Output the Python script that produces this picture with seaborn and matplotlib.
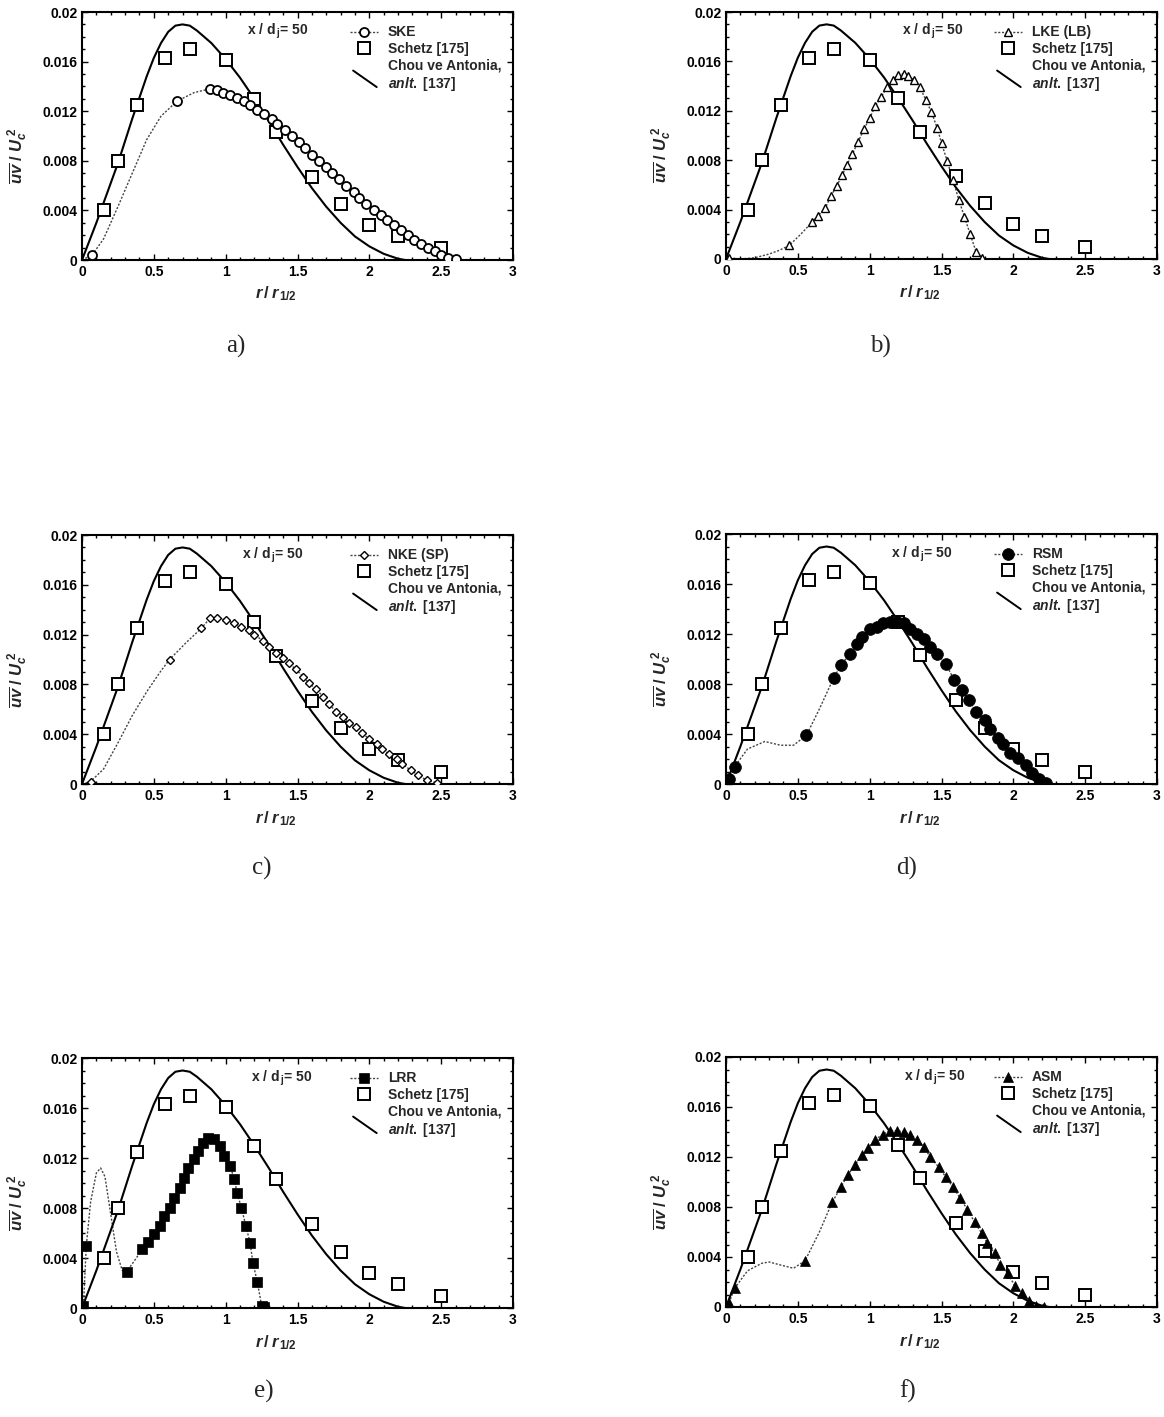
import numpy as np
import pandas as pd
import matplotlib
matplotlib.use("Agg")
import matplotlib.pyplot as plt
import seaborn as sns
from matplotlib.lines import Line2D
from matplotlib.legend_handler import HandlerBase
from matplotlib.ticker import MultipleLocator, FuncFormatter

# ---------------- data ----------------
schetz_r = [0.15, 0.25, 0.38, 0.58, 0.75, 1.00, 1.20, 1.35, 1.60, 1.80, 2.00, 2.20, 2.50]
schetz_v = [0.0040, 0.0080, 0.0125, 0.0163, 0.0170, 0.0161, 0.0130, 0.0103, 0.0067, 0.0045, 0.0028, 0.0019, 0.0010]

chou_r = [0.00, 0.05, 0.10, 0.15, 0.20, 0.25, 0.30, 0.35, 0.40, 0.45, 0.50, 0.55, 0.60, 0.65, 0.70,
          0.75, 0.80, 0.90, 1.00, 1.10, 1.20, 1.30, 1.40, 1.50, 1.60, 1.70, 1.80, 1.90, 2.00,
          2.10, 2.20, 2.25]
chou_v = [0.0000, 0.0015, 0.0030, 0.0046, 0.0062, 0.0078, 0.0096, 0.0114, 0.0131, 0.0148, 0.0163,
          0.0175, 0.0184, 0.0189, 0.0190, 0.0189, 0.0185, 0.0175, 0.0162, 0.0147, 0.0130, 0.0112,
          0.0093, 0.0075, 0.0058, 0.0043, 0.0030, 0.0019, 0.0011, 0.0005, 0.0001, 0.0000]

# a) SKE
ske_r = [0.07, 0.66, 0.89, 0.94, 0.98, 1.03, 1.08, 1.13, 1.17, 1.22, 1.27, 1.32, 1.36, 1.41, 1.46,
         1.51, 1.55, 1.60, 1.65, 1.70, 1.74, 1.79, 1.84, 1.89, 1.93, 1.98, 2.03, 2.08, 2.12, 2.17,
         2.22, 2.27, 2.31, 2.36, 2.41, 2.46, 2.50, 2.55, 2.60]
ske_v = [0.0004, 0.0128, 0.0138, 0.0137, 0.0135, 0.0133, 0.0131, 0.0128, 0.0125, 0.0121, 0.0118,
         0.0114, 0.0110, 0.0105, 0.0100, 0.0095, 0.0090, 0.0085, 0.0080, 0.0075, 0.0070, 0.0065,
         0.0060, 0.0055, 0.0050, 0.0045, 0.0040, 0.0036, 0.0032, 0.0028, 0.0024, 0.0020, 0.0016,
         0.0013, 0.0010, 0.0007, 0.0004, 0.0002, 0.0001]
ske_fit_r = [0.00, 0.15, 0.25, 0.35, 0.45, 0.55, 0.78]
ske_fit_v = [0.0000, 0.0017, 0.0043, 0.0070, 0.0097, 0.0116, 0.0135]

# b) LKE (LB)
lke_r = [0.02, 0.44, 0.60, 0.64, 0.69, 0.73, 0.77, 0.81, 0.84, 0.88, 0.92, 0.96, 1.00, 1.04, 1.08,
         1.12, 1.16, 1.20, 1.24, 1.27, 1.31, 1.35, 1.39, 1.43, 1.47, 1.50, 1.54, 1.58, 1.62, 1.66,
         1.70, 1.74, 1.78]
lke_v = [0.0001, 0.0011, 0.0030, 0.0035, 0.0041, 0.0051, 0.0059, 0.0068, 0.0076, 0.0085, 0.0095,
         0.0105, 0.0114, 0.0124, 0.0131, 0.0139, 0.0145, 0.0149, 0.0150, 0.0148, 0.0145, 0.0139,
         0.0129, 0.0119, 0.0106, 0.0094, 0.0079, 0.0064, 0.0048, 0.0034, 0.0020, 0.0006, 0.0001]
lke_fit_r = [0.00, 0.10, 0.20, 0.30, 0.37, 0.52]
lke_fit_v = [0.0000, 0.0000, 0.0001, 0.0004, 0.0007, 0.0020]

# c) NKE (SP)
nke_r = [0.06, 0.61, 0.83, 0.89, 0.94, 1.00, 1.06, 1.11, 1.16, 1.20, 1.26, 1.30, 1.35, 1.40, 1.44,
         1.49, 1.54, 1.58, 1.63, 1.68, 1.72, 1.77, 1.82, 1.86, 1.91, 1.95, 2.00, 2.05, 2.09, 2.14,
         2.19, 2.23, 2.29, 2.34, 2.40, 2.47]
nke_v = [0.0002, 0.0100, 0.0125, 0.0133, 0.0133, 0.0132, 0.0129, 0.0126, 0.0124, 0.0120, 0.0115,
         0.0110, 0.0105, 0.0101, 0.0097, 0.0092, 0.0086, 0.0081, 0.0076, 0.0070, 0.0064, 0.0058,
         0.0054, 0.0049, 0.0046, 0.0041, 0.0036, 0.0032, 0.0028, 0.0024, 0.0020, 0.0016, 0.0011,
         0.0007, 0.0003, 0.0001]
nke_fit_r = [0.00, 0.15, 0.25, 0.35, 0.45, 0.55, 0.72]
nke_fit_v = [0.0000, 0.0012, 0.0033, 0.0055, 0.0074, 0.0091, 0.0113]

# d) RSM
rsm_r = [0.02, 0.06, 0.56, 0.75, 0.80, 0.86, 0.91, 0.95, 1.00, 1.05, 1.09, 1.14, 1.19, 1.24, 1.28,
         1.33, 1.38, 1.42, 1.47, 1.53, 1.59, 1.64, 1.69, 1.74, 1.80, 1.84, 1.89, 1.93, 1.98, 2.03,
         2.09, 2.13, 2.18, 2.23]
rsm_v = [0.0004, 0.0014, 0.0039, 0.0085, 0.0095, 0.0104, 0.0112, 0.0118, 0.0124, 0.0126, 0.0129,
         0.0130, 0.0130, 0.0129, 0.0124, 0.0120, 0.0116, 0.0110, 0.0104, 0.0096, 0.0083, 0.0075,
         0.0067, 0.0058, 0.0051, 0.0044, 0.0037, 0.0032, 0.0025, 0.0021, 0.0015, 0.0009, 0.0004,
         0.0001]
rsm_fit_r = [0.00, 0.15, 0.27, 0.38, 0.47, 0.65]
rsm_fit_v = [0.0002, 0.0028, 0.0034, 0.0031, 0.0031, 0.0060]

# e) LRR
lrr_r = [0.01, 0.03, 0.31, 0.42, 0.46, 0.50, 0.54, 0.57, 0.61, 0.64, 0.68, 0.71, 0.74, 0.78, 0.81,
         0.84, 0.88, 0.92, 0.96, 0.99, 1.03, 1.06, 1.08, 1.11, 1.14, 1.17, 1.19, 1.22, 1.25, 1.27]
lrr_v = [0.0002, 0.0050, 0.0029, 0.0047, 0.0053, 0.0059, 0.0066, 0.0074, 0.0080, 0.0088, 0.0096,
         0.0104, 0.0112, 0.0119, 0.0126, 0.0132, 0.0136, 0.0135, 0.0130, 0.0122, 0.0114, 0.0103,
         0.0092, 0.0080, 0.0066, 0.0052, 0.0036, 0.0021, 0.0002, 0.0001]
lrr_fit_r = [0.00, 0.06, 0.10, 0.13, 0.16, 0.20, 0.24, 0.28, 0.36]
lrr_fit_v = [0.0000, 0.0085, 0.0108, 0.0112, 0.0105, 0.0075, 0.0045, 0.0030, 0.0037]

# f) ASM
asm_r = [0.02, 0.06, 0.55, 0.74, 0.80, 0.85, 0.90, 0.95, 0.99, 1.04, 1.09, 1.14, 1.19, 1.24, 1.28,
         1.33, 1.38, 1.42, 1.48, 1.53, 1.58, 1.63, 1.68, 1.73, 1.78, 1.82, 1.87, 1.91, 1.96, 2.01,
         2.06, 2.11, 2.16, 2.21]
asm_v = [0.0003, 0.0015, 0.0037, 0.0084, 0.0096, 0.0106, 0.0114, 0.0122, 0.0127, 0.0134, 0.0138,
         0.0141, 0.0141, 0.0140, 0.0138, 0.0134, 0.0128, 0.0120, 0.0112, 0.0104, 0.0096, 0.0087,
         0.0078, 0.0068, 0.0059, 0.0051, 0.0043, 0.0034, 0.0027, 0.0017, 0.0011, 0.0005, 0.0001,
         0.0000]
asm_fit_r = [0.00, 0.15, 0.25, 0.30, 0.40, 0.47, 0.65]
asm_fit_v = [0.0002, 0.0029, 0.0035, 0.0036, 0.0033, 0.0031, 0.0060]

labels = ["SKE", "LKE (LB)", "NKE (SP)", "RSM", "LRR", "ASM"]
captions = ["a)", "b)", "c)", "d)", "e)", "f)"]

# ---------------- style ----------------
sns.set_theme(style="ticks")
plt.rcParams["font.family"] = ["Liberation Sans", "DejaVu Sans"]
plt.rcParams["font.weight"] = "bold"
plt.rcParams["mathtext.fontset"] = "custom"
plt.rcParams["mathtext.rm"] = "Liberation Sans:bold"
plt.rcParams["mathtext.it"] = "Liberation Sans:italic:bold"
plt.rcParams["mathtext.bf"] = "Liberation Sans:bold"


class DiagHandler(HandlerBase):
    def create_artists(self, legend, orig_handle, xdescent, ydescent,
                       width, height, fontsize, trans):
        x0 = -xdescent + 0.1 * width
        x1 = -xdescent + 0.95 * width
        ln = Line2D([x0, x1], [height * 1.1, -height * 0.6], color="black", lw=1.4)
        ln.set_transform(trans)
        return [ln]


fig = plt.figure(figsize=(11.64, 14.17), dpi=100)
W, H = 1164.0, 1417.0
boxes = [(82, 12, 513, 260), (726, 12, 1157, 259),
         (82, 535, 513, 784), (726, 534, 1157, 784),
         (82, 1058, 513, 1308), (726, 1057, 1157, 1307)]
cap_pos = [(236, 346), (880, 346), (262, 868), (907, 868), (264, 1391), (908, 1391)]
txt_x = [1.36, 1.44, 1.33, 1.36, 1.39, 1.45]

models = [
    (ske_r, ske_v, ske_fit_r, ske_fit_v, dict(marker="o", ms=6.5, mfc="white", mew=1.3)),
    (lke_r, lke_v, lke_fit_r, lke_fit_v, dict(marker="^", ms=6.0, mfc="white", mew=1.0)),
    (nke_r, nke_v, nke_fit_r, nke_fit_v, dict(marker="D", ms=4.2, mfc="white", mew=1.0)),
    (rsm_r, rsm_v, rsm_fit_r, rsm_fit_v, dict(marker="o", ms=8.5, mfc="black", mew=0.5)),
    (lrr_r, lrr_v, lrr_fit_r, lrr_fit_v, dict(marker="s", ms=7.8, mfc="black", mew=0.5)),
    (asm_r, asm_v, asm_fit_r, asm_fit_v, dict(marker="^", ms=7.5, mfc="black", mew=0.5)),
]

for i, (box, (mr, mv, fr, fv, mstyle)) in enumerate(zip(boxes, models)):
    l, t, r, b = box
    ax = fig.add_axes([l / W, 1 - b / H, (r - l) / W, (b - t) / H])

    # model dotted fit curve through sparse read points and markers
    fit = pd.DataFrame({"r": list(fr) + list(mr), "v": list(fv) + list(mv)}).sort_values("r")
    sns.lineplot(data=fit, x="r", y="v", ax=ax, sort=False, estimator=None,
                 color="#444444", lw=1.0, linestyle=(0, (1.5, 1.2)), zorder=2)
    # Chou & Antonia analytic curve
    sns.lineplot(x=chou_r, y=chou_v, ax=ax, sort=False, estimator=None,
                 color="black", lw=1.5, zorder=3)
    # Schetz data
    ax.plot(schetz_r, schetz_v, ls="none", marker="s", ms=8.5, mfc="white",
            mec="black", mew=1.4, zorder=4)
    # model markers
    ax.plot(mr, mv, ls="none", marker=mstyle["marker"], ms=mstyle["ms"],
            mfc=mstyle["mfc"], mec="black", mew=mstyle["mew"], zorder=5)

    ax.set_xlim(0, 3)
    ax.set_ylim(0, 0.02)
    ax.xaxis.set_major_locator(MultipleLocator(0.5))
    ax.xaxis.set_minor_locator(MultipleLocator(0.1))
    ax.yaxis.set_major_locator(MultipleLocator(0.004))
    ax.yaxis.set_minor_locator(MultipleLocator(0.001))
    ax.xaxis.set_major_formatter(FuncFormatter(lambda v, p: "%g" % v))
    ax.yaxis.set_major_formatter(FuncFormatter(lambda v, p: "%g" % round(v, 4)))
    ax.tick_params(which="both", direction="in", top=True, right=True,
                   labelsize=10, width=1.0, colors="black")
    ax.tick_params(which="major", length=4)
    ax.tick_params(which="minor", length=2)
    for sp in ax.spines.values():
        sp.set_linewidth(1.5)
        sp.set_color("black")
    for lab in ax.get_xticklabels() + ax.get_yticklabels():
        lab.set_fontweight("bold")

    ax.set_xlabel(r"$r\,/\,r_{\,1/2}$", fontsize=12)
    ax.set_ylabel(r"$\overline{uv}\;/\;U_{c}^{\;2}$", fontsize=12)
    ax.xaxis.set_label_coords(0.45, -0.10)
    ax.yaxis.set_label_coords(-0.12, 0.42)

    ax.text(txt_x[i], 0.0184, r"x / d$_{\,\mathrm{j}}$= 50", ha="center", va="center",
            fontsize=10, fontweight="bold")

    h_model = Line2D([], [], color="#444444", lw=1.0, linestyle=(0, (1.5, 1.2)),
                     marker=mstyle["marker"], ms=mstyle["ms"], mfc=mstyle["mfc"],
                     mec="black", mew=mstyle["mew"], markevery=[1])
    h_model.set_data([0, 1, 2], [0, 0, 0])
    h_sch = Line2D([], [], ls="none", marker="s", ms=8.5, mfc="white", mec="black", mew=1.4)
    h_chou = Line2D([], [], color="black", lw=1.4)
    ax.legend([h_model, h_sch, h_chou],
              [labels[i], "Schetz [175]", "Chou ve Antonia,\n" + r"$\mathit{anlt.}$ [137]"],
              handler_map={h_chou: DiagHandler()},
              loc="upper left", bbox_to_anchor=(0.6, 0.985), frameon=False,
              fontsize=10, handlelength=2.0, handletextpad=0.7, labelspacing=0.18,
              borderaxespad=0.3)

    fig.text(cap_pos[i][0] / W, 1 - cap_pos[i][1] / H, captions[i], ha="center", va="center",
             fontsize=18, family="Liberation Serif", fontweight="normal")

fig.savefig("out.png", dpi=100, facecolor="white")
